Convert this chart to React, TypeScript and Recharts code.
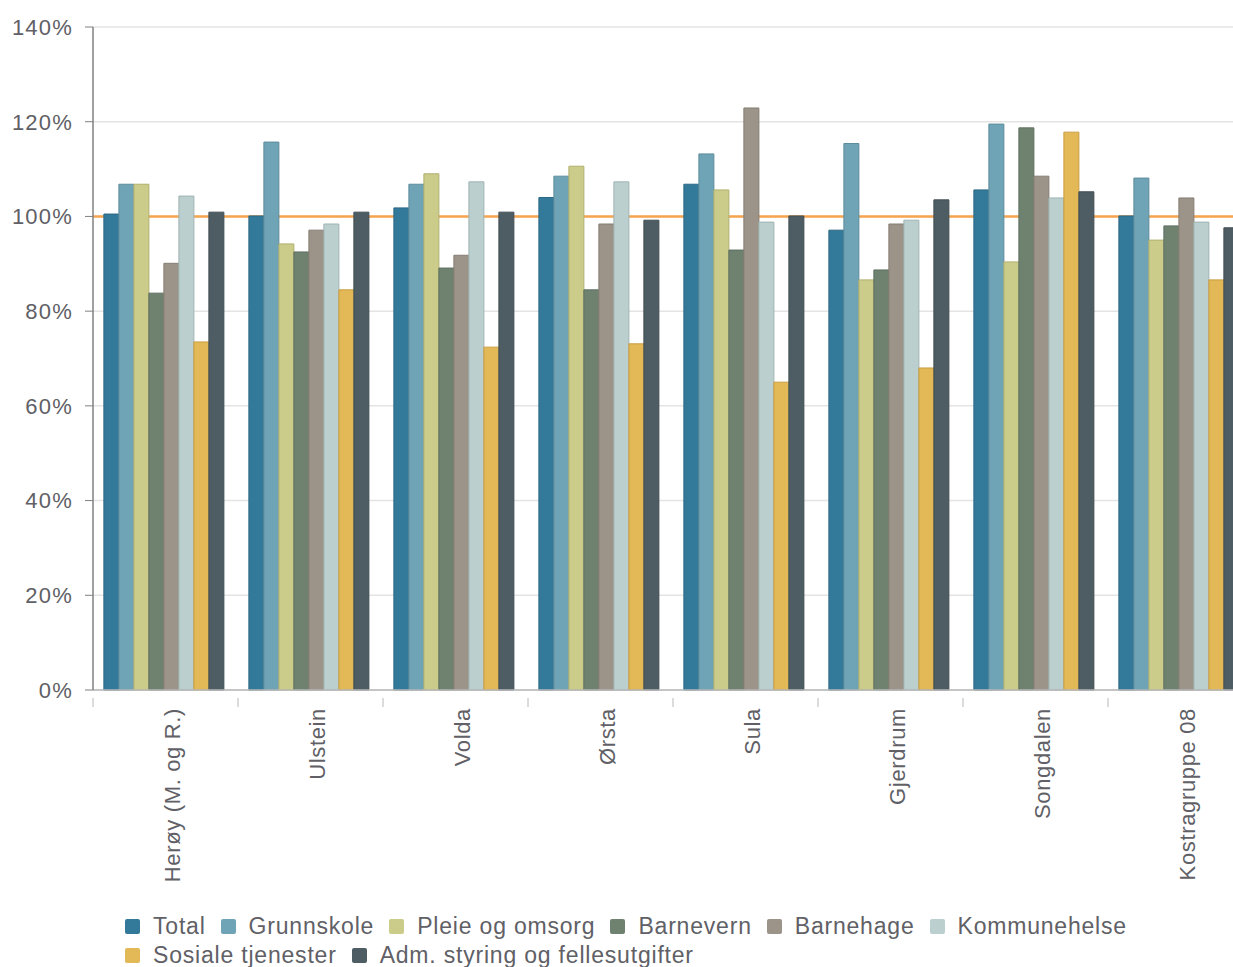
import React from 'react';
import {
  BarChart,
  Bar,
  XAxis,
  YAxis,
  CartesianGrid,
  Legend,
} from 'recharts';

const categories = [
  'Herøy (M. og R.)',
  'Ulstein',
  'Volda',
  'Ørsta',
  'Sula',
  'Gjerdrum',
  'Songdalen',
  'Kostragruppe 08',
];

const total = [100.5, 100.1, 101.8, 104.0, 106.8, 97.1, 105.6, 100.1];
const grunnskole = [106.8, 115.7, 106.8, 108.5, 113.2, 115.4, 119.5, 108.1];
const pleie = [106.8, 94.2, 109.0, 110.6, 105.6, 86.6, 90.4, 95.0];
const barnevern = [83.8, 92.5, 89.1, 84.5, 92.9, 88.7, 118.7, 98.0];
const barnehage = [90.1, 97.1, 91.8, 98.4, 122.9, 98.4, 108.5, 103.9];
const kommunehelse = [104.3, 98.4, 107.3, 107.3, 98.8, 99.2, 103.9, 98.8];
const sosiale = [73.5, 84.5, 72.4, 73.1, 65.0, 68.0, 117.8, 86.6];
const adm = [100.9, 100.9, 100.9, 99.2, 100.1, 103.5, 105.2, 97.6];

const yTicks = [0, 20, 40, 60, 80, 100, 120, 140];
const yDomain = [0, 140];
const targetLevel = 100;

const SERIES = [
  { key: 'total', name: 'Total', values: total, fill: '#33799a', stroke: '#2b6782' },
  { key: 'grunnskole', name: 'Grunnskole', values: grunnskole, fill: '#6fa3b6', stroke: '#5e8c9c' },
  { key: 'pleie', name: 'Pleie og omsorg', values: pleie, fill: '#cbcb8a', stroke: '#b0b070' },
  { key: 'barnevern', name: 'Barnevern', values: barnevern, fill: '#6f8270', stroke: '#5e6f5f' },
  { key: 'barnehage', name: 'Barnehage', values: barnehage, fill: '#9c9389', stroke: '#857d74' },
  { key: 'kommunehelse', name: 'Kommunehelse', values: kommunehelse, fill: '#bccfcf', stroke: '#9fb3b3' },
  { key: 'sosiale', name: 'Sosiale tjenester', values: sosiale, fill: '#e3b856', stroke: '#c89e40' },
  { key: 'adm', name: 'Adm. styring og fellesutgifter', values: adm, fill: '#4e5d63', stroke: '#414e53' },
];

const data = categories.map((name, i) => {
  const row: Record<string, string | number> = { name };
  SERIES.forEach(s => {
    row[s.key] = s.values[i];
  });
  return row;
});

const WIDTH = 1260;
const HEIGHT = 967;
const MARGIN = { top: 27, right: 7, left: 0, bottom: 0 };
const Y_WIDTH = 93;
const BAND = (WIDTH - MARGIN.left - MARGIN.right - Y_WIDTH) / categories.length;
const TEXT = '#606066';
const FONT = 'Arial, "Liberation Sans", sans-serif';

interface TickProps {
  x?: number;
  y?: number;
  index?: number;
  payload?: { value: string };
}

function CategoryTick({ x = 0, y = 0, index = 0, payload }: TickProps) {
  return (
    <g>
      {index === 0 && (
        <line x1={x - BAND / 2} x2={x - BAND / 2} y1={y} y2={y + 9} stroke="#b8b8b8" />
      )}
      <line x1={x + BAND / 2} x2={x + BAND / 2} y1={y} y2={y + 9} stroke="#b8b8b8" />
      <g transform={`translate(${x + 14},${y + 10}) rotate(-90)`}>
        <text textAnchor="end" fill={TEXT} fontSize={22} fontFamily={FONT} letterSpacing={0.65}>
          {payload?.value}
        </text>
      </g>
    </g>
  );
}

function LegendContent() {
  return (
    <div
      style={{
        display: 'flex',
        flexWrap: 'wrap',
        width: 1080,
        fontFamily: FONT,
        fontSize: 23,
        letterSpacing: 0.8,
        color: TEXT,
        lineHeight: '29px',
      }}
    >
      {SERIES.map(s => (
        <div key={s.key} style={{ display: 'flex', alignItems: 'center', marginRight: 15 }}>
          <span
            style={{
              display: 'inline-block',
              width: 15,
              height: 15,
              borderRadius: 2,
              background: s.fill,
              marginRight: 13,
            }}
          />
          <span>{s.name}</span>
        </div>
      ))}
    </div>
  );
}

// position of the 100% line, drawn as a grid line so it stays behind the bars
function targetLine({ yAxis, offset }: any) {
  if (yAxis && typeof yAxis.scale === 'function') return [yAxis.scale(targetLevel)];
  const [lo, hi] = yDomain;
  return [offset.top + offset.height * (1 - (targetLevel - lo) / (hi - lo))];
}

export default function App() {
  return (
    <div
      style={{
        position: 'absolute',
        left: 0,
        top: 0,
        width: 1233,
        height: HEIGHT,
        overflow: 'hidden',
        background: '#fff',
      }}
    >
      <BarChart
        width={WIDTH}
        height={HEIGHT}
        data={data}
        margin={MARGIN}
        barGap={0}
        barCategoryGap="7.5%"
      >
        <CartesianGrid vertical={false} stroke="#e4e4e4" strokeWidth={1.5} />
        <CartesianGrid
          vertical={false}
          stroke="#f6a54e"
          strokeWidth={2.5}
          horizontalCoordinatesGenerator={targetLine}
        />
        <XAxis
          dataKey="name"
          height={HEIGHT - 690}
          interval={0}
          tickLine={false}
          axisLine={{ stroke: '#b8b8b8', strokeWidth: 1.5 }}
          tick={<CategoryTick />}
        />
        <YAxis
          width={Y_WIDTH}
          domain={yDomain}
          ticks={yTicks}
          interval={0}
          tickFormatter={v => `${v}%`}
          tickSize={8}
          tickMargin={12}
          tickLine={{ stroke: '#808080' }}
          axisLine={{ stroke: '#808080', strokeWidth: 1.5 }}
          tick={{ fill: TEXT, fontSize: 22, fontFamily: FONT, letterSpacing: 1.2 }}
        />
        {SERIES.map(s => (
          <Bar
            key={s.key}
            dataKey={s.key}
            name={s.name}
            fill={s.fill}
            stroke={s.stroke}
            strokeWidth={1}
            isAnimationActive={false}
          />
        ))}
        <Legend
          verticalAlign="middle"
          layout="horizontal"
          content={<LegendContent />}
          wrapperStyle={{ top: 912, left: 125, width: 1080 }}
        />
      </BarChart>
    </div>
  );
}
